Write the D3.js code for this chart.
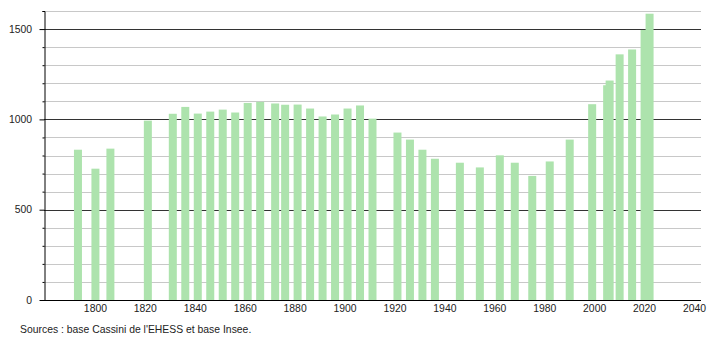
<!DOCTYPE html>
<html>
<head>
<meta charset="utf-8">
<script src="https://cdn.jsdelivr.net/npm/d3@7"></script>
<style>
  body { margin: 0; background: #fff; }
  text { font-family: "Liberation Sans", Arial, sans-serif; fill: #222; }
</style>
</head>
<body>
<div id="chart"></div>
<script>
// census years and population
var years = [1793, 1800, 1806, 1821, 1831, 1836, 1841, 1846, 1851, 1856,
             1861, 1866, 1872, 1876, 1881, 1886, 1891, 1896, 1901, 1906,
             1911, 1921, 1926, 1931, 1936, 1946, 1954, 1962, 1968, 1975,
             1982, 1990, 1999, 2005, 2006, 2010, 2015, 2020, 2022];
var population = [832, 727, 838, 993, 1031, 1069, 1032, 1043, 1054, 1038,
                  1091, 1097, 1088, 1081, 1082, 1060, 1016, 1027, 1060, 1077,
                  1004, 927, 888, 832, 782, 760, 734, 801, 760, 687,
                  767, 888, 1084, 1189, 1215, 1360, 1387, 1495, 1585];
var yMajor = [0, 500, 1000, 1500];
var xTicks = [1800, 1820, 1840, 1860, 1880, 1900, 1920, 1940, 1960, 1980, 2000, 2020, 2040];
var source = "Sources : base Cassini de l'EHESS et base Insee.";

(function() {
  var W = 710, H = 340;
  var mLeft = 44, mRight = 701, mTop = 11, mBottom = 300;
  var barW = 8;

  var svg = d3.select("#chart").append("svg")
    .attr("width", W).attr("height", H);

  var x = d3.scaleLinear().domain([1780, 2043]).range([mLeft + 1.5, mRight + 1]);
  var y = d3.scaleLinear().domain([0, 1600]).range([mBottom, mTop]);

  // grid lines every 100, darker on the 500s
  svg.append("g").selectAll("line")
    .data(d3.range(100, 1601, 100))
    .enter().append("line")
      .attr("x1", mLeft).attr("x2", mRight)
      .attr("y1", function(d) { return Math.round(y(d)) + 0.5; })
      .attr("y2", function(d) { return Math.round(y(d)) + 0.5; })
      .attr("stroke", function(d) { return d % 500 == 0 ? "#333" : "#c8c8c8"; })
      .attr("stroke-width", 1);

  // bars
  svg.append("g").selectAll("rect")
    .data(years)
    .enter().append("rect")
      .attr("x", function(d) { return x(d) - barW / 2; })
      .attr("y", function(d, i) { return y(population[i]); })
      .attr("width", barW)
      .attr("height", function(d, i) { return mBottom - y(population[i]); })
      .attr("fill", "#ade3ad");

  // y axis with small ticks every 100
  svg.append("g")
    .attr("transform", "translate(" + (mLeft + 0.5) + ",0)")
    .call(d3.axisLeft(y).tickValues(d3.range(0, 1601, 100)).tickSize(2).tickFormat(""))
    .call(function(g) {
      g.select(".domain").attr("stroke", "#000");
      g.selectAll(".tick line").attr("stroke", "#000")
        .attr("x2", function(d) { return d % 500 == 0 ? -5 : -2; });
    });

  svg.append("g").selectAll("text")
    .data(yMajor)
    .enter().append("text")
      .attr("x", 32)
      .attr("y", function(d) { return y(d); })
      .attr("dy", "0.35em")
      .attr("text-anchor", "end")
      .style("font-size", "10.4px")
      .text(function(d) { return d; });

  // x axis, no ticks
  svg.append("line")
    .attr("x1", mLeft).attr("x2", mRight)
    .attr("y1", mBottom + 0.5).attr("y2", mBottom + 0.5)
    .attr("stroke", "#000");

  svg.append("g").selectAll("text")
    .data(xTicks)
    .enter().append("text")
      .attr("x", function(d) { return x(d); })
      .attr("y", 312)
      .attr("text-anchor", "middle")
      .style("font-size", "10.4px")
      .text(function(d) { return d; });

  svg.append("text")
    .attr("x", 20).attr("y", 333)
    .style("font-size", "10.4px")
    .text(source);
})();
</script>
</body>
</html>
